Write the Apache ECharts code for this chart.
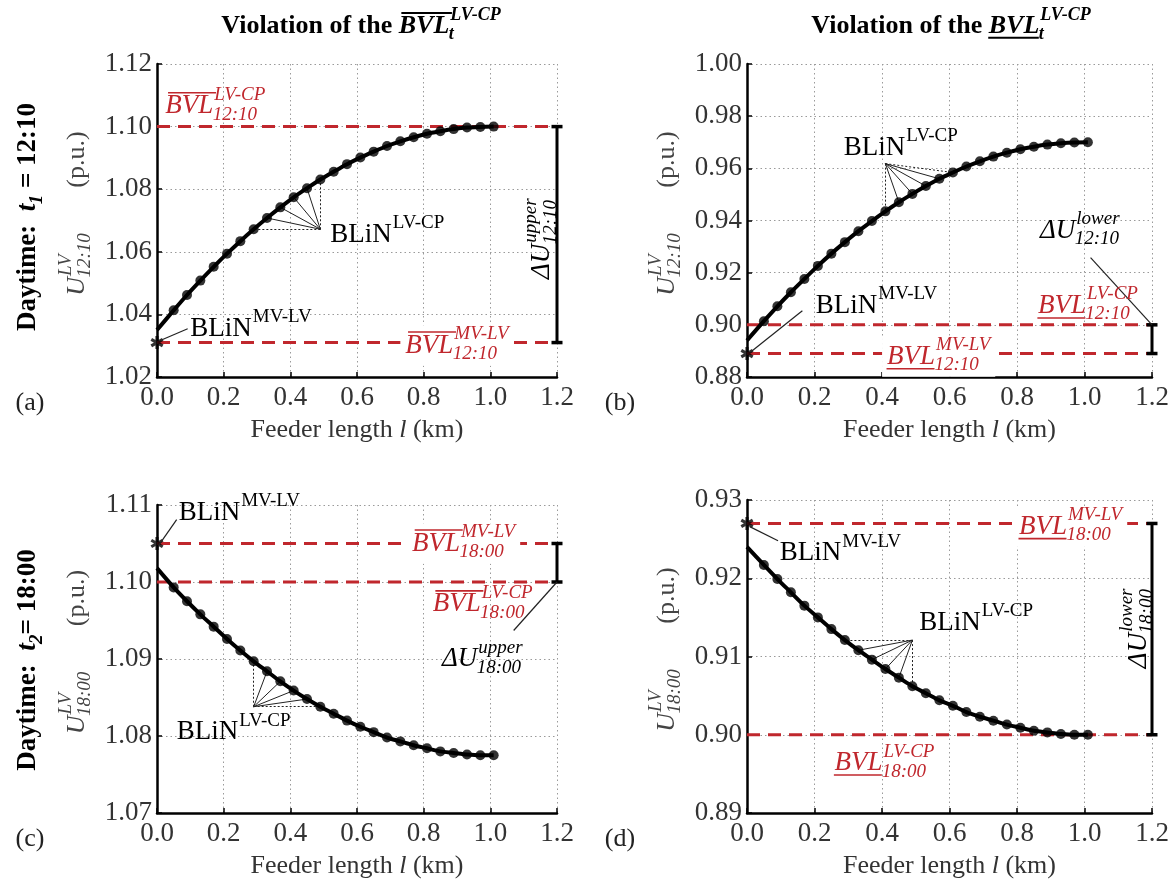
<!DOCTYPE html>
<html><head><meta charset="utf-8">
<script src="https://cdn.jsdelivr.net/npm/echarts@6/dist/echarts.min.js"></script>
<style>html,body{margin:0;padding:0;background:#fff}#c{width:1173px;height:881px}</style>
</head><body><div id="c"></div>
<script>
// ---------------- data ----------------
const feederX = [0.00, 0.05, 0.09, 0.13, 0.17, 0.21, 0.25, 0.29, 0.33, 0.37, 0.41, 0.45, 0.49, 0.53,
                 0.57, 0.61, 0.65, 0.69, 0.73, 0.77, 0.81, 0.85, 0.89, 0.93, 0.97, 1.01];
// (a) 12:10 upper violation
const voltA = [1.0350, 1.0413, 1.0462, 1.0508, 1.0552, 1.0594, 1.0634, 1.0672, 1.0708, 1.0742, 1.0774, 1.0803, 1.0831,
               1.0856, 1.0880, 1.0901, 1.0920, 1.0938, 1.0953, 1.0966, 1.0977, 1.0985, 1.0992, 1.0997, 1.0999, 1.1000];
// (b) 12:10 lower violation
const voltB = [0.8940, 0.9014, 0.9071, 0.9125, 0.9176, 0.9226, 0.9273, 0.9317, 0.9359, 0.9398, 0.9435, 0.9470, 0.9502,
               0.9532, 0.9560, 0.9584, 0.9607, 0.9627, 0.9645, 0.9660, 0.9673, 0.9683, 0.9691, 0.9696, 0.9699, 0.9700];
// (c) 18:00 upper violation
const voltC = [1.1018, 1.0993, 1.0975, 1.0958, 1.0942, 1.0926, 1.0911, 1.0897, 1.0884, 1.0871, 1.0859, 1.0848, 1.0838,
               1.0829, 1.0820, 1.0812, 1.0805, 1.0798, 1.0793, 1.0788, 1.0784, 1.0780, 1.0778, 1.0776, 1.0775, 1.0775];
// (d) 18:00 lower violation
const voltD = [0.9240, 0.9217, 0.9199, 0.9182, 0.9165, 0.9150, 0.9135, 0.9121, 0.9108, 0.9096, 0.9084, 0.9073, 0.9062,
               0.9053, 0.9044, 0.9037, 0.9029, 0.9023, 0.9018, 0.9013, 0.9009, 0.9005, 0.9003, 0.9001, 0.9000, 0.9000];
const bvlMvLv = [1.031, 0.889, 1.105, 0.927];   // BVL at MV-LV node (star)
const bvlLvCp = [1.100, 0.900, 1.100, 0.900];   // BVL at LV-CP
const yMin  = [1.02, 0.88, 1.07, 0.89];
const yMax  = [1.12, 1.00, 1.11, 0.93];
const yStep = [0.02, 0.02, 0.01, 0.01];
const xMax = 1.2, xStep = 0.2;
const timeLabels = ['12:10', '12:10', '18:00', '18:00'];
const panelLetters = ['(a)', '(b)', '(c)', '(d)'];

// ---------------- style ----------------
const FAM = 'Liberation Serif';
const RED = '#c0272d';
const volts = [voltA, voltB, voltC, voltD];
const grids = [
  {left: 157, top: 64,  width: 400, height: 313},
  {left: 747, top: 64,  width: 405, height: 313},
  {left: 157, top: 505, width: 400, height: 308},
  {left: 747, top: 500, width: 405, height: 313}
];
const STAR = 'path://M-1.2 -5L-1.2 5L1.2 5L1.2 -5Z M3.73 3.539L4.93 1.461L-3.73 -3.539L-4.93 -1.461Z M4.93 -1.461L3.73 -3.539L-4.93 1.461L-3.73 3.539Z';

const xAxes = [], yAxes = [], series = [];
grids.forEach((g, i) => {
  xAxes.push({
    type: 'value', gridIndex: i, min: 0, max: xMax, interval: xStep,
    axisLine: {show: true, onZero: false, lineStyle: {color: '#000', width: 2.5}},
    axisTick: {show: true, inside: true, length: 5, lineStyle: {color: '#000', width: 1.5}},
    axisLabel: {fontSize: 27, fontFamily: FAM, color: '#333', margin: 7, showMinLabel: true, showMaxLabel: true,
                formatter: v => v.toFixed(1)},
    splitLine: {show: true, lineStyle: {type: [1.5, 3], color: '#9a9a9a', width: 1}}
  });
  yAxes.push({
    type: 'value', gridIndex: i, min: yMin[i], max: yMax[i], interval: yStep[i],
    axisLine: {show: true, onZero: false, lineStyle: {color: '#000', width: 2.5}},
    axisTick: {show: true, inside: true, length: 5, lineStyle: {color: '#000', width: 1.5}},
    axisLabel: {fontSize: 27, fontFamily: FAM, color: '#333', margin: 5, showMinLabel: true, showMaxLabel: true,
                formatter: v => v.toFixed(2)},
    splitLine: {show: true, lineStyle: {type: [1.5, 3], color: '#9a9a9a', width: 1}}
  });
  const ax = {xAxisIndex: i, yAxisIndex: i};
  const V = volts[i];
  // red dashed BVL lines
  [bvlLvCp[i], bvlMvLv[i]].forEach(v => series.push(Object.assign({
    type: 'line', data: [[0, v], [xMax, v]], symbol: 'none', silent: true,
    lineStyle: {color: RED, width: 3, type: [13, 8]}, z: 2
  }, ax)));
  // voltage profile
  series.push(Object.assign({
    type: 'line', data: feederX.map((x, k) => [x, V[k]]), symbol: 'none', smooth: 0.3,
    lineStyle: {color: '#000', width: 4}, z: 4
  }, ax));
  // nodes
  series.push(Object.assign({
    type: 'scatter', data: feederX.slice(1).map((x, k) => [x, V[k + 1]]), symbol: 'circle', symbolSize: 10,
    itemStyle: {color: '#000'}, z: 5
  }, ax));
  // MV-LV star
  series.push(Object.assign({
    type: 'scatter', data: [[0, bvlMvLv[i]]], symbol: STAR, symbolSize: 13, clip: false,
    itemStyle: {color: '#000'}, z: 6
  }, ax));
  // delta bar
  series.push(Object.assign({
    type: 'line', data: [[xMax, bvlMvLv[i]], [xMax, bvlLvCp[i]]], symbol: 'rect', symbolSize: [11, 3.5],
    showSymbol: true, clip: false, lineStyle: {color: '#000', width: 3}, itemStyle: {color: '#000'}, z: 6
  }, ax));
});

// fan annotations (anchor + node indices)
const fans = [
  {anchor: [feederX[12], voltA[7]], solid: [8, 9, 10, 11], dotted: [7, 12]},
  {anchor: [feederX[10], 0.9618],   solid: [11, 12, 13, 14], dotted: [10, 15]},
  {anchor: [feederX[7], voltC[12]], solid: [8, 9, 10, 11], dotted: [7, 12]},
  {anchor: [feederX[12], voltD[7]], solid: [8, 9, 10, 11], dotted: [7, 12]}
];
// leader lines for BLiN MV-LV and ΔU labels
const leaders = [
  [[[0.008, 1.0316], [0.092, 1.0354]]],
  [[[0.010, 0.8895], [0.164, 0.9054]], [[1.018, 0.9258], [xMax, 0.900]]],
  [[[0.004, 1.1047], [0.059, 1.1081]], [[1.070, 1.0937], [xMax, 1.100]]],
  [[[0.008, 0.9266], [0.092, 0.9248]]]
];
fans.forEach((f, i) => {
  const V = volts[i];
  const ax = {xAxisIndex: i, yAxisIndex: i, coordinateSystem: 'cartesian2d'};
  series.push(Object.assign({
    type: 'lines', silent: true, z: 3,
    data: f.solid.map(k => ({coords: [f.anchor, [feederX[k], V[k]]]})),
    lineStyle: {color: '#222', width: 1, type: 'solid', opacity: 1}
  }, ax));
  series.push(Object.assign({
    type: 'lines', silent: true, z: 3,
    data: f.dotted.map(k => ({coords: [f.anchor, [feederX[k], V[k]]]})),
    lineStyle: {color: '#222', width: 1, type: [2, 2], opacity: 1}
  }, ax));
  series.push(Object.assign({
    type: 'lines', silent: true, z: 7,
    data: leaders[i].map(c => ({coords: c})),
    lineStyle: {color: '#222', width: 1.2, type: 'solid', opacity: 1}
  }, ax));
});

const chart = echarts.init(document.getElementById('c'), null, {renderer: 'canvas'});
chart.setOption({
  animation: false, backgroundColor: '#fff',
  grid: grids, xAxis: xAxes, yAxis: yAxes, series: series
});

// ---------------- math-like text helpers ----------------
const mctx = document.createElement('canvas').getContext('2d');
function tw(t, size, it, bd) {
  mctx.font = (it ? 'italic ' : '') + (bd ? 'bold ' : '') + size + 'px "' + FAM + '"';
  return mctx.measureText(t).width;
}
function txt(t, x, y, size, it, bd, color) {
  return {type: 'text', x: x, y: y, silent: true, z: 101,
    style: {text: t, fontSize: size, fontFamily: FAM, fontStyle: it ? 'italic' : 'normal',
            fontWeight: bd ? 'bold' : 'normal', fill: color,
            align: 'left', verticalAlign: 'middle', textAlign: 'left', textVerticalAlign: 'middle'}};
}
function mathGroup(segs, o) {
  const s = o.size, ss = o.ss || Math.round(s * 0.72), color = o.color || '#000';
  const kids = []; let cx = 0;
  segs.forEach(g => {
    const w = tw(g.t, s, g.it, g.bd);
    kids.push(txt(g.t, cx, 0, s, g.it, g.bd, color));
    if (g.deco) {
      const ly = g.deco === 'over' ? -0.5 * s : 0.45 * s;
      const off = g.it ? (g.deco === 'over' ? 0.1 * s : -0.02 * s) : 0;
      kids.push({type: 'line', silent: true, z: 101, shape: {x1: cx + off, y1: ly, x2: cx + w + off, y2: ly},
                 style: {stroke: color, lineWidth: g.bd ? 2 : 1.6}});
    }
    cx += w;
    let ex = 0;
    if (g.sup) { kids.push(txt(g.sup, cx + 1, -0.42 * s, ss, g.it, g.bd, color)); ex = Math.max(ex, tw(g.sup, ss, g.it, g.bd) + 1); }
    if (g.sub) { const so = g.it ? -0.06 * s : 0; kids.push(txt(g.sub, cx + 1 + so, 0.32 * s, ss, g.it, g.bd, color)); ex = Math.max(ex, tw(g.sub, ss, g.it, g.bd) + 1 + so); }
    cx += ex;
  });
  const shift = o.align === 'center' ? -cx / 2 : (o.align === 'right' ? -cx : 0);
  kids.forEach(k => { if (k.type === 'line') { k.shape.x1 += shift; k.shape.x2 += shift; } else k.x += shift; });
  if (o.bg) kids.unshift({type: 'rect', silent: true, z: 100, shape: {x: shift - 5, y: -0.75 * s, width: cx + 10, height: 1.5 * s}, style: {fill: '#ffffff', stroke: null}});
  return {type: 'group', x: o.x, y: o.y, rotation: o.rot || 0, z: 100, children: kids};
}
const G = [];
function atData(g, x, y, segs, o) {
  const p = chart.convertToPixel({gridIndex: g}, [x, y]);
  G.push(mathGroup(segs, Object.assign({}, o, {x: p[0], y: p[1] + (o.dy || 0)})));
}
function atPx(x, y, segs, o) { G.push(mathGroup(segs, Object.assign({}, o, {x: x, y: y}))); }

const bvl = (deco, sup, sub) => [{t: 'BVL', it: true, deco: deco, sup: sup, sub: sub}];
const blin = sup => [{t: 'BLiN', sup: sup}];
const dU = (sup, sub) => [{t: 'ΔU', it: true, sup: sup, sub: sub}];
const R = {size: 27, ss: 19, color: RED};
const K = {size: 27, ss: 19, color: '#000'};

// (a)
atData(0, 0.52, 1.0655, blin('LV-CP'), K);
atData(0, 0.10, 1.0354, blin('MV-LV'), K);
atData(0, 0.025, 1.1065, bvl('over', 'LV-CP', timeLabels[0]), R);
atData(0, 0.745, bvlMvLv[0], bvl('over', 'MV-LV', timeLabels[0]), Object.assign({bg: true, dy: 3}, R));
atData(0, 1.155, 1.0642, dU('upper', timeLabels[0]), Object.assign({align: 'center', rot: Math.PI / 2}, K));
// (b)
atData(1, 0.287, 0.968, blin('LV-CP'), K);
atData(1, 0.204, 0.9073, blin('MV-LV'), K);
atData(1, 0.862, 0.9073, bvl('under', 'LV-CP', timeLabels[1]), R);
atData(1, 0.415, bvlMvLv[1], bvl('under', 'MV-LV', timeLabels[1]), Object.assign({bg: true, dy: 3}, R));
atData(1, 0.868, 0.9362, dU('lower', timeLabels[1]), K);
// (c)
atData(2, 0.059, 1.0805, blin('LV-CP'), K);
atData(2, 0.065, 1.109, blin('MV-LV'), K);
atData(2, 0.765, bvlMvLv[2], bvl('over', 'MV-LV', timeLabels[2]), Object.assign({bg: true, dy: 0}, R));
atData(2, 0.827, 1.0971, bvl('over', 'LV-CP', timeLabels[2]), R);
atData(2, 0.855, 1.090, dU('upper', timeLabels[2]), K);
// (d)
atData(3, 0.51, 0.9143, blin('LV-CP'), K);
atData(3, 0.097, 0.9232, blin('MV-LV'), K);
atData(3, 0.806, bvlMvLv[3], bvl('under', 'MV-LV', timeLabels[3]), Object.assign({bg: true, dy: 3}, R));
atData(3, 0.259, 0.8964, bvl('under', 'LV-CP', timeLabels[3]), R);
atData(3, 1.161, 0.9136, dU('lower', timeLabels[3]), Object.assign({align: 'center', rot: Math.PI / 2}, K));

// titles
atPx(361, 26, [{t: 'Violation of the ', bd: true}, {t: 'BVL', it: true, bd: true, deco: 'over', sup: 'LV-CP', sub: 't'}], {size: 26, ss: 18, align: 'center'});
atPx(951, 26, [{t: 'Violation of the ', bd: true}, {t: 'BVL', it: true, bd: true, deco: 'under', sup: 'LV-CP', sub: 't'}], {size: 26, ss: 18, align: 'center'});
// row labels
atPx(28, 217, [{t: 'Daytime:  ', bd: true}, {t: 't', it: true, bd: true, sub: '1'}, {t: ' = 12:10', bd: true}], {size: 27, ss: 19, align: 'center', rot: Math.PI / 2});
atPx(28, 660, [{t: 'Daytime:  ', bd: true}, {t: 't', it: true, bd: true, sub: '2'}, {t: '= 18:00', bd: true}], {size: 27, ss: 19, align: 'center', rot: Math.PI / 2});
// y axis names, x axis names, panel letters
grids.forEach((g, i) => {
  atPx(g.left - 80, g.top + g.height / 2 - 7, [{t: 'U', it: true, sup: 'LV', sub: timeLabels[i]}, {t: '       (p.u.)'}],
       {size: 26, ss: 19, color: '#444', align: 'center', rot: Math.PI / 2});
  atPx(g.left + g.width / 2, g.top + g.height + 53, [{t: 'Feeder length '}, {t: 'l', it: true}, {t: ' (km)'}],
       {size: 26, color: '#333', align: 'center'});
  atPx(g.left - 127, g.top + g.height + 26, [{t: panelLetters[i]}], {size: 26, color: '#222', align: 'center'});
});
chart.setOption({graphic: {elements: G}});
</script>
</body></html>
